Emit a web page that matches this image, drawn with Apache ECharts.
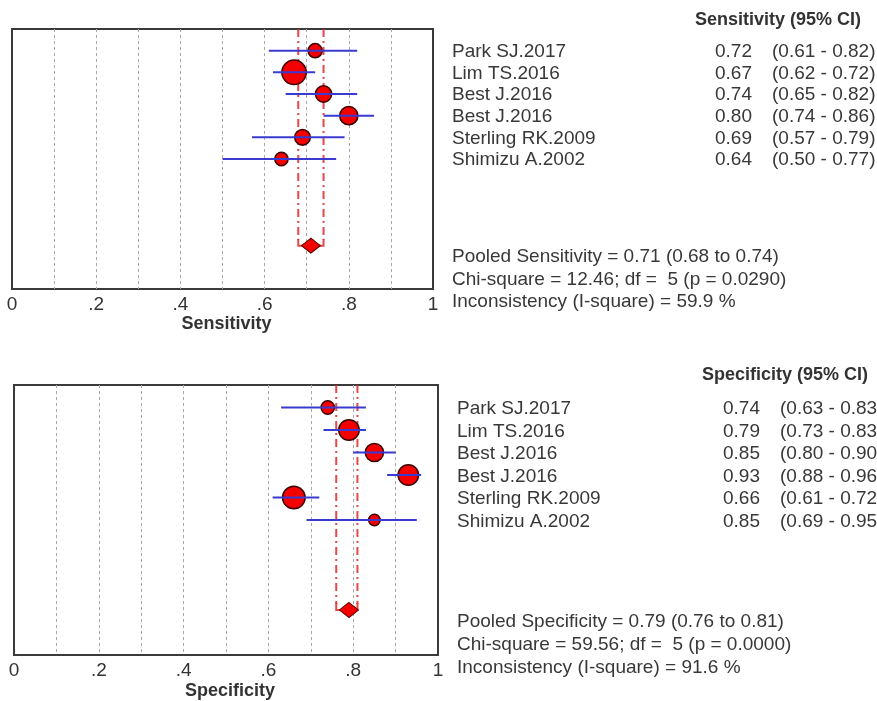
<!DOCTYPE html>
<html><head><meta charset="utf-8">
<script src="https://cdn.jsdelivr.net/npm/echarts@6/dist/echarts.min.js"></script>
<style>html,body{margin:0;padding:0;background:#fff}#c{width:877px;height:701px}</style>
</head><body><div id="c"></div>
<script>
// ---------- data ----------
const studies = ['Park SJ.2017','Lim TS.2016','Best J.2016','Best J.2016','Sterling RK.2009','Shimizu A.2002'];
const studyRows = [1,2,3,4,5,6];
const pooledRow = 10;

const sensEst = [0.72,0.67,0.74,0.80,0.69,0.64];
const sensLo  = [0.61,0.62,0.65,0.74,0.57,0.50];
const sensHi  = [0.82,0.72,0.82,0.86,0.79,0.77];
const sensWeight = [9,27,12,15,11,8];
const sensPooled = [0.71,0.68,0.74];
const sensStats = ['Chi-square = 12.46; df =  5 (p = 0.0290)','Inconsistency (I-square) = 59.9 %'];

const specEst = [0.74,0.79,0.85,0.93,0.66,0.85];
const specLo  = [0.63,0.73,0.80,0.88,0.61,0.69];
const specHi  = [0.83,0.83,0.90,0.96,0.72,0.95];
const specWeight = [8,19,15,19,23,6];
const specPooled = [0.79,0.76,0.81];
const specStats = ['Chi-square = 59.56; df =  5 (p = 0.0000)','Inconsistency (I-square) = 91.6 %'];

const xTickLabels = ['0','.2','.4','.6','.8','1'];

// ---------- layout ----------
const FONT = '"Liberation Sans", Arial, sans-serif';
const panels = [
  {name:'Sensitivity', est:sensEst, lo:sensLo, hi:sensHi, w:sensWeight, pooled:sensPooled, stats:sensStats,
   grid:{left:12, top:29, width:421, height:260},
   textX:452, valX:752, ciX:772, headX:695, headY:20, rowOff:1, statY:[257,280,302], nameGap:26},
  {name:'Specificity', est:specEst, lo:specLo, hi:specHi, w:specWeight, pooled:specPooled, stats:specStats,
   grid:{left:14, top:385, width:424, height:270},
   textX:457, valX:760, ciX:780, headX:702, headY:375, rowOff:1.5, statY:[622,645,668], nameGap:27}
];

const grids = [], xAxes = [], yAxes = [], series = [], graphics = [];
const f2 = v => v.toFixed(2);

panels.forEach((p, i) => {
  grids.push(Object.assign({show:true, borderColor:'#3a3a3a', borderWidth:2, backgroundColor:'#fff'}, p.grid));
  xAxes.push({
    gridIndex:i, type:'value', min:0, max:1, interval:0.1,
    axisLine:{show:false}, axisTick:{show:false},
    axisLabel:{interval:0, margin:6, fontFamily:FONT, fontSize:19, color:'#333',
      formatter: v => { const k = Math.round(v*10); return k % 2 === 0 ? xTickLabels[k/2] : ''; }},
    splitLine:{show:true, showMinLine:false, showMaxLine:false, lineStyle:{type:[3,3], color:'#a8a8a8', width:1}},
    name:p.name, nameLocation:'middle', nameGap:p.nameGap,
    nameTextStyle:{fontFamily:FONT, fontWeight:'bold', fontSize:18, color:'#333', verticalAlign:'top', padding:[0,0,0,8]}
  });
  yAxes.push({gridIndex:i, type:'value', min:0, max:12, inverse:true, show:false});

  // pooled CI bracket (dash-dot red lines)
  series.push({
    type:'custom', xAxisIndex:i, yAxisIndex:i, z:2, silent:true,
    data:[[p.pooled[1], pooledRow, p.pooled[2]]],
    renderItem:(params, api) => {
      const lo = api.value(0), row = api.value(1), hi = api.value(2);
      const a = api.coord([lo, 0]), b = api.coord([lo, row]);
      const c = api.coord([hi, 0]), d = api.coord([hi, row]);
      const col = 'rgba(225,40,40,0.85)';
      return {type:'group', children:[
        {type:'line', shape:{x1:a[0], y1:a[1], x2:b[0], y2:b[1]-6}, style:{stroke:col, lineWidth:2, lineDash:[8,4,2,4]}},
        {type:'line', shape:{x1:c[0], y1:c[1], x2:d[0], y2:d[1]-6}, style:{stroke:col, lineWidth:2, lineDash:[8,4,2,4]}},
        {type:'polyline', shape:{points:[[b[0], b[1]-7],[b[0], b[1]],[d[0], d[1]],[d[0], d[1]-7]]}, style:{stroke:col, lineWidth:2, fill:null}}
      ]};
    }
  });

  // study markers
  series.push({
    type:'scatter', xAxisIndex:i, yAxisIndex:i, z:3, silent:true,
    data:p.est.map((e, k) => [e, studyRows[k], p.w[k]]),
    symbol:'circle',
    symbolSize: v => 4.7 * Math.sqrt(v[2]),
    itemStyle:{color:'#f40000', borderColor:'#3a0000', borderWidth:1.5, opacity:1}
  });

  // CI lines
  series.push({
    type:'custom', xAxisIndex:i, yAxisIndex:i, z:4, silent:true,
    data:p.lo.map((l, k) => [l, studyRows[k], p.hi[k]]),
    renderItem:(params, api) => {
      const a = api.coord([api.value(0), api.value(1)]);
      const b = api.coord([api.value(2), api.value(1)]);
      return {type:'line', shape:{x1:a[0], y1:a[1], x2:b[0], y2:b[1]}, style:{stroke:'#3a3ad0', lineWidth:2}};
    }
  });

  // pooled diamond
  series.push({
    type:'scatter', xAxisIndex:i, yAxisIndex:i, z:5, silent:true,
    data:[[p.pooled[0], pooledRow]],
    symbol:'diamond', symbolSize:[19,15],
    itemStyle:{color:'#f40000', borderColor:'#600000', borderWidth:1, opacity:1}
  });

  // texts
  const g = p.grid, rowH = g.height / 12;
  const txt = (x, y, text, opts) => graphics.push({type:'text', x, y, silent:true,
    style:Object.assign({text, fill:'#383838', font:'19px ' + FONT, align:'left', verticalAlign:'middle'}, opts || {})});
  txt(p.headX, p.headY, p.name + ' (95% CI)', {font:'bold 18px ' + FONT, fill:'#333'});
  studies.forEach((s, k) => {
    const y = g.top + studyRows[k] * rowH + p.rowOff;
    txt(p.textX, y, s);
    txt(p.valX, y, f2(p.est[k]), {align:'right'});
    txt(p.ciX, y, '(' + f2(p.lo[k]) + ' - ' + f2(p.hi[k]) + ')');
  });
  txt(p.textX, p.statY[0], 'Pooled ' + p.name + ' = ' + f2(p.pooled[0]) + ' (' + f2(p.pooled[1]) + ' to ' + f2(p.pooled[2]) + ')');
  txt(p.textX, p.statY[1], p.stats[0]);
  txt(p.textX, p.statY[2], p.stats[1]);
});

const chart = echarts.init(document.getElementById('c'), null, {renderer:'canvas'});
chart.setOption({
  animation:false,
  backgroundColor:'#fff',
  grid:grids, xAxis:xAxes, yAxis:yAxes, series:series,
  graphic:{elements:graphics}
});
</script>
</body></html>
